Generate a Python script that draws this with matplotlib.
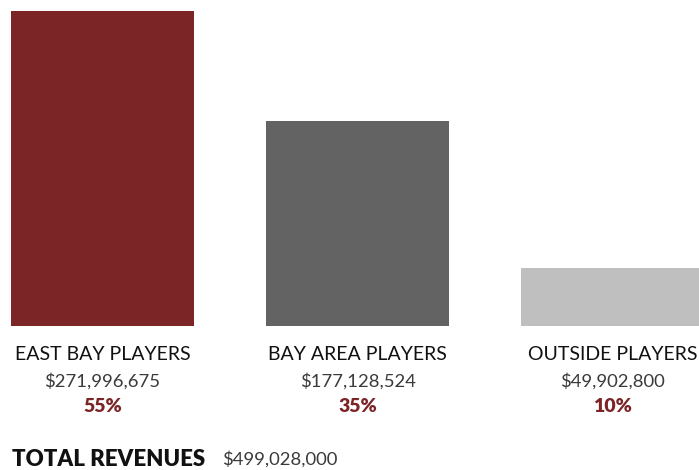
import matplotlib.pyplot as plt
from matplotlib import transforms

categories = ["EAST BAY PLAYERS", "BAY AREA PLAYERS", "OUTSIDE PLAYERS"]
revenues = [271996675, 177128524, 49902800]
shares = [55, 35, 10]
total_revenue = 499028000

bar_colors = ["#7b2527", "#636363", "#bfbfbf"]
accent = "#7b2527"

plt.rcParams['font.family'] = ['Lato', 'DejaVu Sans']

fig = plt.figure(figsize=(6.99, 4.70), dpi=100)
ax = fig.add_axes([0, (470 - 326) / 470, 1, 315 / 470])

x = range(len(categories))
ax.bar(x, revenues, width=0.718, color=bar_colors)
ax.set_xlim(-0.402, 2.339)
ax.set_ylim(0, max(revenues))
ax.axis('off')

# labels under each bar: name, amount, share
trans = transforms.blended_transform_factory(ax.transData, fig.transFigure)
for i, (name, val, pct) in enumerate(zip(categories, revenues, shares)):
    ax.text(i, 1 - 355 / 470, name, transform=trans, ha='center', va='center',
            fontsize=14, color='#111111', clip_on=False)
    ax.text(i, 1 - 381 / 470, f"${val:,}", transform=trans, ha='center', va='center',
            fontsize=13.3, fontweight='normal', color='#3a3a3a', clip_on=False)
    ax.text(i, 1 - 406 / 470, f"{pct}%", transform=trans, ha='center', va='center',
            fontsize=14, fontweight='heavy', color=accent, clip_on=False)

fig.text(12 / 699, 1 - 459 / 470, "TOTAL REVENUES", ha='left', va='center',
         fontsize=16, fontweight='heavy', color='#111111')
fig.text(222 / 699, 1 - 459 / 470, f"${total_revenue:,}", ha='left', va='center',
         fontsize=13.3, fontweight='normal', color='#3a3a3a')

fig.savefig("out.png", dpi=100)
